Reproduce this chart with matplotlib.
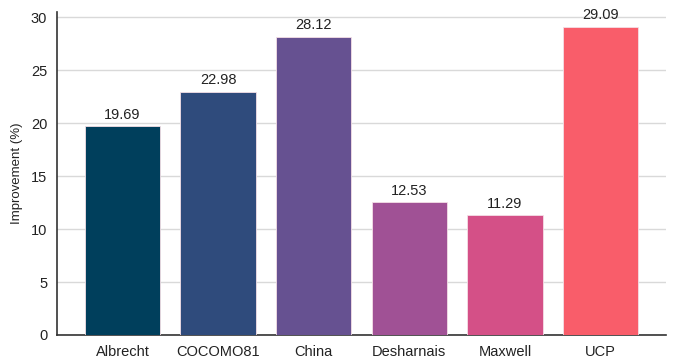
import matplotlib
matplotlib.use("Agg")
import matplotlib.pyplot as plt

plt.rcParams['font.family'] = ['Liberation Sans', 'DejaVu Sans']

models = ["Albrecht", "COCOMO81", "China", "Desharnais", "Maxwell", "UCP"]
improvement = [19.69, 22.98, 28.12, 12.53, 11.29, 29.09]
colors = ["#003f5c", "#2f4b7c", "#665191", "#a05195", "#d45087", "#f95d6a"]

fig = plt.figure(figsize=(6.76, 3.58), dpi=100)
ax = fig.add_axes([57 / 676, 1 - 335 / 358, 609 / 676, 323 / 358])

x = range(len(models))
bars = ax.bar(x, improvement, width=0.79, color=colors,
              edgecolor="#f4dfe6", linewidth=0.6, zorder=3)

for b, v in zip(bars, improvement):
    ax.text(b.get_x() + b.get_width() / 2, v + 0.45, f"{v:.2f}",
            ha="center", va="bottom", fontsize=10.5, color="#222222")

ax.set_xlim(-0.685, 5.685)
ax.set_ylim(0, 30.5)
ax.set_yticks([0, 5, 10, 15, 20, 25, 30])
ax.set_xticks(list(x))
ax.set_xticklabels(models)
ax.tick_params(axis="both", length=0, labelsize=10.5, colors="#222222")
ax.tick_params(axis="y", pad=7)
ax.tick_params(axis="x", pad=7)
ax.set_ylabel("Improvement (%)", fontsize=9.5, color="#222222", labelpad=6)

ax.grid(axis="y", color="#d9d9d9", linewidth=1, zorder=0)
ax.spines["top"].set_visible(False)
ax.spines["right"].set_visible(False)
ax.spines["left"].set_color("#333333")
ax.spines["bottom"].set_color("#333333")
ax.spines["left"].set_linewidth(1.2)
ax.spines["bottom"].set_linewidth(1.2)

fig.savefig("out.png", dpi=100)
